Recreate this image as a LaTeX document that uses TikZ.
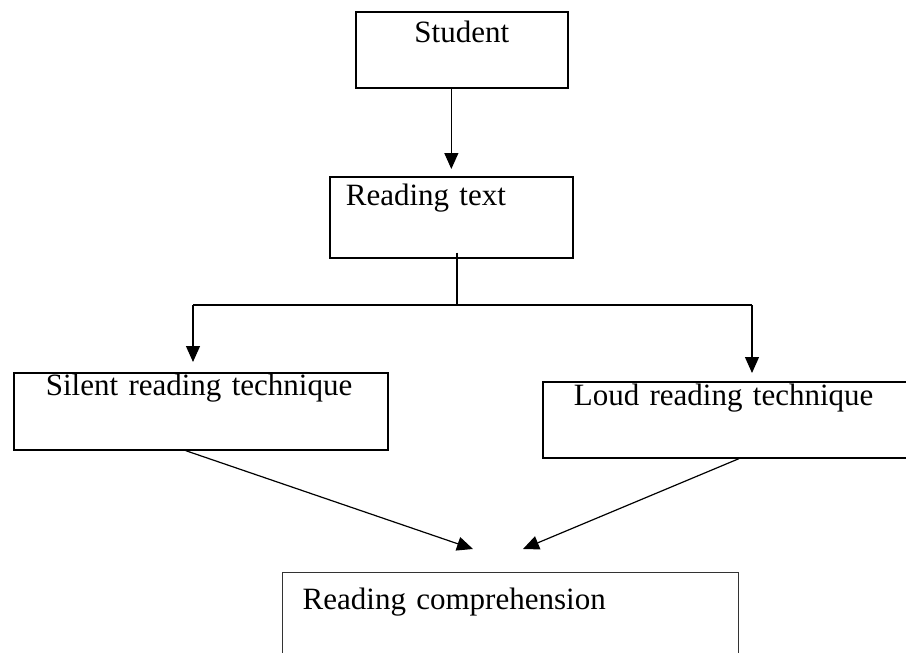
\documentclass[tikz,border=0pt]{standalone}
\usepackage{fontspec}
\setmainfont{Liberation Serif}
\usetikzlibrary{arrows.meta}

\begin{document}
\begin{tikzpicture}[x=0.5pt, y=-0.5pt,
    box/.style={draw, line width=0.85pt, inner ysep=0pt, anchor=north west,
        font=\fontsize{15.5}{18}\selectfont},
    arrow/.style={line width=0.6pt, -{Triangle[length=8pt, width=7pt]}}]

    \pgfmathsetmacro{\W}{906}
    \pgfmathsetmacro{\H}{653}

    % 枠
    \useasboundingbox (0,0) rectangle (\W,\H);

    % 箱
    \node[box, minimum width=106pt, text height=15.5pt, text depth=22.5pt]
        (student) at (355,11) {Student};
    \node[box, text width=105.5pt, inner xsep=8pt, align=left,
        text height=14.5pt, text depth=26pt]
        (reading) at (329,176) {Reading text};
    \node[box, text width=155pt, inner xsep=16pt, align=left,
        text height=11.5pt, text depth=27pt]
        (silent) at (13,372) {Silent reading technique};
    \node[box, text width=154pt, inner xsep=15.5pt, align=left,
        text height=12pt, text depth=26pt]
        (loud) at (542,381) {Loud reading technique};
    \node[box, draw=black!80, line width=0.7pt, text width=208pt, inner xsep=10pt,
        align=left, text height=18.5pt, text depth=50pt]
        (comp) at (282,572) {Reading comprehension};

    % 分岐点
    \coordinate (split) at (457,305);
    \coordinate (dropL) at (193,305);
    \coordinate (dropR) at (752,305);
    \coordinate (tipL) at (473,549);
    \coordinate (tipR) at (523,549);

    % 矢印
    \draw[arrow, shorten >=3.5pt] (reading.north |- student.south) -- (reading.north);
    \draw[line width=0.6pt] (split |- reading.south) ++(0,-6) -- (split);
    \draw[line width=0.6pt] (dropL) -- (dropR);
    \draw[arrow, shorten >=5pt] (dropL) -- (dropL |- silent.north);
    \draw[arrow, shorten >=4pt] (dropR) -- (dropR |- loud.north);
    \draw[arrow] ([xshift=-7.5pt]silent.south) -- (tipL);
    \draw[arrow] ([xshift=5.5pt]loud.south) -- (tipR);

\end{tikzpicture}
\end{document}
